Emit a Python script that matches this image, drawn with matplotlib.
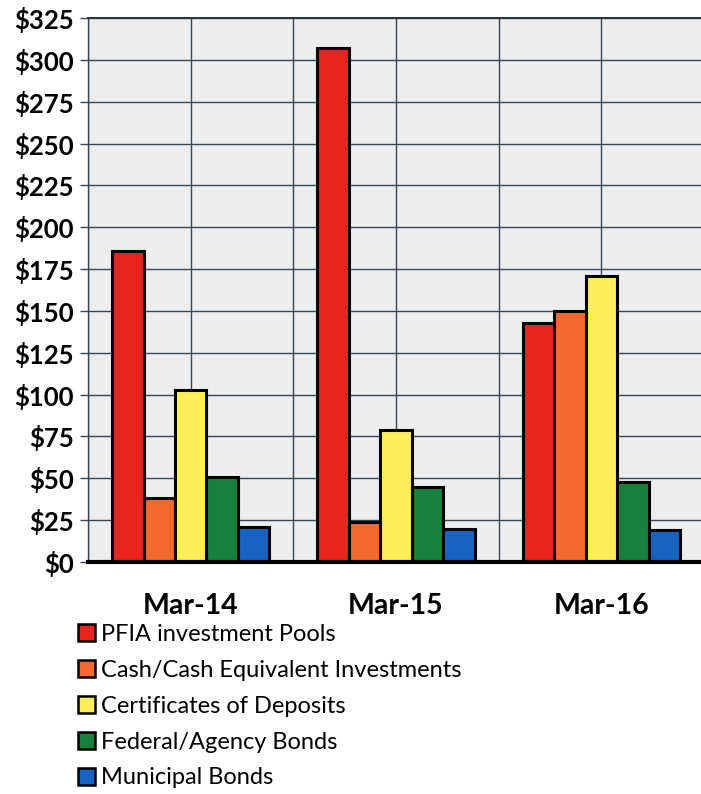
import numpy as np
import matplotlib.pyplot as plt
from matplotlib.patches import Patch
from matplotlib.ticker import MultipleLocator, FuncFormatter

# data
periods = ["Mar-14", "Mar-15", "Mar-16"]
series = [
    "PFIA investment Pools",
    "Cash/Cash Equivalent Investments",
    "Certificates of Deposits",
    "Federal/Agency Bonds",
    "Municipal Bonds",
]
pfia = [186, 307, 143]
cash = [38, 24, 150]
cds = [103, 79, 171]
federal = [51, 45, 48]
municipal = [21, 20, 19]
values = [pfia, cash, cds, federal, municipal]
colors = ["#E8241F", "#F26A2D", "#FCEE58", "#17803C", "#1664BF"]

plt.rcParams["font.family"] = ["Lato", "DejaVu Sans"]

fig = plt.figure(figsize=(7.01, 7.94), dpi=100)
ax = fig.add_axes([88 / 701, 232 / 794, 1 - 88 / 701, 544 / 794])
ax.set_facecolor("#EDEDED")

x = np.arange(len(periods))
n = len(series)
width = 0.153
for i, (vals, c) in enumerate(zip(values, colors)):
    off = (i - (n - 1) / 2) * width
    ax.bar(x + off, vals, width, color=c, edgecolor="black", linewidth=2.2, zorder=3)

ax.set_xlim(-0.5, 2.485)
ax.set_ylim(0, 325)
ax.yaxis.set_major_locator(MultipleLocator(25))
ax.yaxis.set_major_formatter(FuncFormatter(lambda v, p: f"${v:.0f}"))
ax.set_xticks(x)
ax.set_xticklabels(periods, fontsize=20.5, fontweight="bold")
ax.xaxis.set_minor_locator(MultipleLocator(0.5))
ax.tick_params(axis="x", which="both", length=0, pad=22)
ax.tick_params(axis="y", length=6, width=1, color="#3A4653", pad=4, labelsize=18.5)
for lab in ax.get_yticklabels():
    lab.set_fontweight("bold")

ax.grid(True, axis="y", color="#3A4653", linewidth=1.0, zorder=1)
ax.grid(True, axis="x", which="both", color="#3A4653", linewidth=1.0, zorder=1)
ax.set_axisbelow(True)

ax.spines["right"].set_visible(False)
ax.spines["left"].set_color("#3A4653")
ax.spines["left"].set_linewidth(1.0)
ax.spines["top"].set_color("#2A3440")
ax.spines["top"].set_linewidth(1.4)
ax.spines["bottom"].set_color("black")
ax.spines["bottom"].set_linewidth(3)
ax.spines["bottom"].set_zorder(4)

handles = [Patch(facecolor=c, edgecolor="black", linewidth=1.8) for c in colors]
fig.legend(handles, series, loc="upper left", bbox_to_anchor=(78 / 701, 1 - 624 / 794),
           frameon=False, fontsize=17, handlelength=0.72, handleheight=0.72,
           handletextpad=0.25, labelspacing=0.63, borderaxespad=0, borderpad=0)

fig.savefig("out.png", dpi=100)
